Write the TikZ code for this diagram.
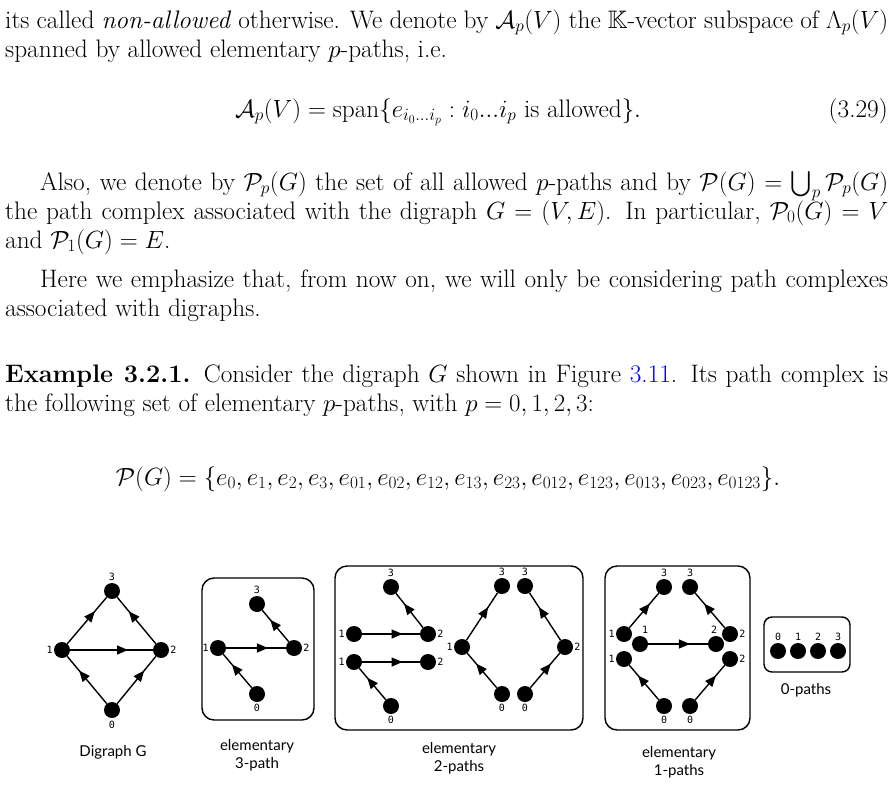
\documentclass[tikz,border=0pt]{standalone}
\usepackage{amsmath,amssymb}
\usepackage{fontspec}
\setsansfont{Lato}
\setmonofont{DejaVu Sans Mono}
\usepackage{xcolor}
\usetikzlibrary{decorations.markings,arrows.meta}
\begin{document}
\begin{tikzpicture}[x=1pt,y=-1pt,
  txt/.style={anchor=base west,inner sep=0pt,font=\fontsize{25.3}{30}\selectfont},
  v/.style={circle,fill=black,minimum size=16pt,inner sep=0pt},
  lab/.style={font=\ttfamily\fontsize{10}{11}\selectfont,inner sep=1pt},
  captxt/.style={font=\sffamily\fontsize{15}{18}\selectfont,align=center},
  frame/.style={draw,line width=1.4pt,rounded corners=12pt},
  ed/.style={line width=1.4pt,postaction={decorate},decoration={markings,mark=at position 0.7 with {\arrow{Triangle[length=11pt,width=9pt]}}}}]
\useasboundingbox (0,0) rectangle (896,787);
\fill[white] (0,0) rectangle (896,787);
% text
\node[txt] (l1) at (5,28) {\hbox to 883pt{its called \emph{non-allowed} otherwise. We denote by $\mathcal{A}_p(V)$ the $\mathbb{K}$-vector subspace of $\Lambda_p(V)$}};
\node[txt] (l2) at (5,57) {spanned by allowed elementary $p$-paths, i.e.};
\node[txt,anchor=base] (e1) at (438,117) {$\mathcal{A}_p(V)=\operatorname{span}\{e_{i_0\ldots i_p}: i_0...i_p \text{ is allowed}\}.$};
\node[txt,anchor=base east] (n1) at (888,117) {(3.29)};
\node[txt] (l3) at (40,190) {\hbox to 848pt{Also, we denote by $\mathcal{P}_p(G)$ the set of all allowed $p$-paths and by $\mathcal{P}(G)=\bigcup_p\mathcal{P}_p(G)$}};
\node[txt] (l4) at (5,219) {\hbox to 883pt{the path complex associated with the digraph $G=(V,E)$. In particular, $\mathcal{P}_0(G)=V$}};
\node[txt] (l5) at (5,248) {and $\mathcal{P}_1(G)=E$.};
\node[txt] (l6) at (40,287) {\hbox to 848pt{Here we emphasize that, from now on, we will only be considering path complexes}};
\node[txt] (l7) at (5,316) {associated with digraphs.};
\node[txt] (l8) at (5,382) {\hbox to 883pt{\textbf{Example 3.2.1.} Consider the digraph $G$ shown in Figure \textcolor{blue}{3.11}. Its path complex is}};
\node[txt] (l9) at (5,411) {the following set of elementary $p$-paths, with $p=0,1,2,3$:};
\node[txt,anchor=base] (e2) at (448,485) {$\mathcal{P}(G)=\{e_0,e_1,e_2,e_3,e_{01},e_{02},e_{12},e_{13},e_{23},e_{012},e_{123},e_{013},e_{023},e_{0123}\}.$};
% Digraph G
\node[v] (g3) at (112,591) {}; \node[v] (g1) at (62,650) {}; \node[v] (g2) at (161,650) {}; \node[v] (g0) at (112,710) {};
\node[lab,above=1pt] at (g3.north) {3}; \node[lab,left=0pt] at (g1.west) {1}; \node[lab,right=0pt] at (g2.east) {2}; \node[lab,below=2pt] at (g0.south) {0};
\draw[ed] (g0)--(g1); \draw[ed] (g0)--(g2); \draw[ed] (g1)--(g2); \draw[ed] (g1)--(g3); \draw[ed] (g2)--(g3);
\node[captxt] at (113,752) {Digraph G};
% 3-path
\draw[frame] (202,578) rectangle (314,720);
\node[v] (a3) at (257,604) {}; \node[v] (a1) at (218,648) {}; \node[v] (a2) at (294,648) {}; \node[v] (a0) at (257,694) {};
\node[lab,above=1pt] at (a3.north) {3}; \node[lab,left=0pt] at (a1.west) {1}; \node[lab,right=0pt] at (a2.east) {2}; \node[lab,below=1pt] at (a0.south) {0};
\draw[ed] (a0)--(a1); \draw[ed] (a1)--(a2); \draw[ed] (a2)--(a3);
\node[captxt] at (257,755) {elementary\\3-path};
% 2-paths
\draw[frame] (335,566) rectangle (583,730);
\node[v] (b3) at (391,587) {}; \node[v] (b1) at (354,634) {}; \node[v] (b2) at (428,634) {};
\node[v] (c1) at (354,662) {}; \node[v] (c2) at (428,662) {}; \node[v] (c0) at (391,706) {};
\node[v] (d3) at (502,586) {}; \node[v] (d1) at (462,647) {}; \node[v] (d0) at (502,694) {};
\node[v] (f3) at (525,586) {}; \node[v] (f2) at (565,647) {}; \node[v] (f0) at (525,694) {};
\node[lab,above=1pt] at (b3.north) {3}; \node[lab,left=0pt] at (b1.west) {1}; \node[lab,right=0pt] at (b2.east) {2};
\node[lab,left=0pt] at (c1.west) {1}; \node[lab,right=0pt] at (c2.east) {2}; \node[lab,below=1pt] at (c0.south) {0};
\node[lab,above=1pt] at (d3.north) {3}; \node[lab,left=0pt] at (d1.west) {1}; \node[lab,below=1pt] at (d0.south) {0};
\node[lab,above=1pt] at (f3.north) {3}; \node[lab,right=0pt] at (f2.east) {2}; \node[lab,below=1pt] at (f0.south) {0};
\draw[ed] (b1)--(b2); \draw[ed] (b2)--(b3); \draw[ed] (c0)--(c1); \draw[ed] (c1)--(c2);
\draw[ed] (d0)--(d1); \draw[ed] (d1)--(d3); \draw[ed] (f0)--(f2); \draw[ed] (f2)--(f3);
\node[captxt] at (459,758) {elementary\\2-paths};
% 1-paths
\draw[frame] (605,566) rectangle (750,730);
\node[v] (h3) at (664,587) {}; \node[v] (k3) at (690,587) {};
\node[v] (h1) at (624,634) {}; \node[v] (k2) at (730,634) {};
\node[v] (m1) at (640,644) {}; \node[v] (m2) at (716,644) {};
\node[v] (p1) at (624,659) {}; \node[v] (q2) at (730,659) {};
\node[v] (p0) at (664,706) {}; \node[v] (q0) at (690,706) {};
\node[lab,above=1pt] at (h3.north) {3}; \node[lab,above=1pt] at (k3.north) {3};
\node[lab,left=0pt] at (h1.west) {1}; \node[lab,right=0pt] at (k2.east) {2};
\node[lab] at (645,630) {1}; \node[lab] at (714,630) {2};
\node[lab,left=0pt] at (p1.west) {1}; \node[lab,right=0pt] at (q2.east) {2};
\node[lab,below=1pt] at (p0.south) {0}; \node[lab,below=1pt] at (q0.south) {0};
\draw[ed] (h1)--(h3); \draw[ed] (k2)--(k3); \draw[ed] (m1)--(m2); \draw[ed] (p0)--(p1); \draw[ed] (q0)--(q2);
\node[captxt] at (679,762) {elementary\\1-paths};
% 0-paths
\draw[frame,rounded corners=8pt] (764,617) rectangle (850,672);
\foreach \i/\x in {0/778,1/798,2/818,3/838}{\node[v] (z\i) at (\x,651) {}; \node[lab,above=1pt] at (z\i.north) {\i};}
\node[captxt] at (806,690) {0-paths};
\end{tikzpicture}
\end{document}
